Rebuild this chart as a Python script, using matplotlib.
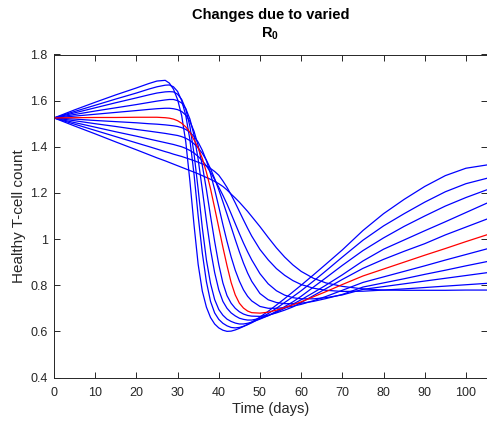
import matplotlib
matplotlib.use("Agg")
import matplotlib.pyplot as plt

plt.rcParams['font.family'] = ['Liberation Sans', 'DejaVu Sans']
plt.rcParams['mathtext.fontset'] = 'custom'
plt.rcParams['mathtext.bf'] = 'Liberation Sans:bold'
plt.rcParams['mathtext.rm'] = 'Liberation Sans'

# Sampling days shared by every trajectory
days = [0, 5, 10, 15, 20, 23, 25, 27, 28, 29, 30, 31, 32, 33, 34, 35, 36, 37, 38,
        39, 40, 41, 42, 43, 44, 45, 46, 47, 48, 50, 52, 54, 56, 58, 60, 63, 66,
        70, 75, 80, 85, 90, 95, 100, 105]

# Healthy T-cell count for each value of R0 (blue runs), baseline run in red
run_01 = [1.525, 1.560, 1.593, 1.625, 1.655, 1.674, 1.685, 1.688, 1.676, 1.650,
          1.605, 1.535, 1.420, 1.250, 1.060, 0.890, 0.775, 0.705, 0.660, 0.632,
          0.615, 0.605, 0.600, 0.601, 0.606, 0.613, 0.621, 0.630, 0.640, 0.662,
          0.687, 0.714, 0.742, 0.771, 0.800, 0.845, 0.891, 0.953, 1.037, 1.110,
          1.172, 1.228, 1.275, 1.307, 1.321]
run_02 = [1.525, 1.553, 1.580, 1.607, 1.633, 1.650, 1.660, 1.667, 1.668, 1.660,
          1.640, 1.600, 1.535, 1.430, 1.280, 1.100, 0.940, 0.815, 0.730, 0.680,
          0.652, 0.635, 0.624, 0.617, 0.615, 0.617, 0.622, 0.629, 0.637, 0.656,
          0.677, 0.700, 0.725, 0.750, 0.776, 0.818, 0.862, 0.922, 0.995, 1.057,
          1.110, 1.160, 1.205, 1.240, 1.263]
run_03 = [1.525, 1.547, 1.569, 1.591, 1.612, 1.625, 1.633, 1.638, 1.639, 1.638,
          1.628, 1.605, 1.563, 1.488, 1.370, 1.215, 1.050, 0.910, 0.808, 0.738,
          0.695, 0.670, 0.653, 0.643, 0.636, 0.632, 0.632, 0.635, 0.640, 0.653,
          0.668, 0.687, 0.707, 0.728, 0.752, 0.792, 0.832, 0.886, 0.950, 1.005,
          1.055, 1.100, 1.143, 1.180, 1.213]
run_04 = [1.525, 1.540, 1.555, 1.569, 1.583, 1.592, 1.598, 1.603, 1.605, 1.605,
          1.600, 1.590, 1.565, 1.520, 1.450, 1.345, 1.215, 1.080, 0.955, 0.855,
          0.780, 0.730, 0.700, 0.680, 0.667, 0.657, 0.652, 0.649, 0.649, 0.656,
          0.668, 0.683, 0.700, 0.718, 0.737, 0.768, 0.800, 0.845, 0.905, 0.956,
          0.996, 1.036, 1.075, 1.115, 1.155]
run_05 = [1.525, 1.533, 1.541, 1.549, 1.557, 1.562, 1.565, 1.567, 1.567, 1.565,
          1.561, 1.553, 1.537, 1.510, 1.467, 1.405, 1.320, 1.215, 1.100, 0.990,
          0.890, 0.810, 0.755, 0.722, 0.700, 0.685, 0.675, 0.669, 0.666, 0.665,
          0.670, 0.680, 0.692, 0.706, 0.725, 0.755, 0.785, 0.825, 0.873, 0.912,
          0.947, 0.980, 1.018, 1.052, 1.086]
run_base = [1.525, 1.526, 1.527, 1.527, 1.528, 1.528, 1.528, 1.526, 1.524, 1.520,
            1.513, 1.502, 1.486, 1.463, 1.430, 1.395, 1.350, 1.290, 1.218, 1.135,
            1.050, 0.965, 0.885, 0.812, 0.758, 0.722, 0.701, 0.688, 0.681, 0.679,
            0.683, 0.692, 0.703, 0.715, 0.728, 0.750, 0.772, 0.803, 0.840, 0.870,
            0.900, 0.930, 0.959, 0.989, 1.018]
run_07 = [1.525, 1.520, 1.514, 1.509, 1.504, 1.500, 1.498, 1.495, 1.493, 1.491,
          1.488, 1.483, 1.475, 1.463, 1.445, 1.420, 1.385, 1.340, 1.283, 1.215,
          1.140, 1.063, 0.990, 0.923, 0.865, 0.818, 0.780, 0.752, 0.732, 0.708,
          0.700, 0.700, 0.703, 0.709, 0.717, 0.733, 0.751, 0.778, 0.812, 0.836,
          0.860, 0.884, 0.909, 0.933, 0.957]
run_08 = [1.525, 1.513, 1.500, 1.488, 1.475, 1.468, 1.463, 1.458, 1.455, 1.452,
          1.449, 1.444, 1.437, 1.427, 1.413, 1.395, 1.372, 1.342, 1.305, 1.262,
          1.214, 1.162, 1.108, 1.053, 0.998, 0.945, 0.896, 0.853, 0.817, 0.764,
          0.737, 0.725, 0.720, 0.720, 0.722, 0.730, 0.742, 0.760, 0.792, 0.810,
          0.828, 0.847, 0.865, 0.884, 0.902]
run_09 = [1.525, 1.505, 1.485, 1.465, 1.446, 1.434, 1.426, 1.418, 1.414, 1.410,
          1.405, 1.400, 1.393, 1.384, 1.373, 1.358, 1.340, 1.317, 1.290, 1.258,
          1.225, 1.190, 1.152, 1.110, 1.067, 1.024, 0.983, 0.945, 0.910, 0.850,
          0.806, 0.776, 0.757, 0.746, 0.741, 0.741, 0.746, 0.758, 0.782, 0.794,
          0.806, 0.818, 0.830, 0.842, 0.854]
run_10 = [1.525, 1.498, 1.471, 1.444, 1.417, 1.401, 1.390, 1.379, 1.374, 1.368,
          1.363, 1.358, 1.352, 1.346, 1.340, 1.333, 1.326, 1.317, 1.306, 1.293,
          1.277, 1.252, 1.224, 1.192, 1.157, 1.120, 1.083, 1.047, 1.013, 0.955,
          0.910, 0.872, 0.843, 0.820, 0.803, 0.787, 0.778, 0.773, 0.774, 0.779,
          0.784, 0.790, 0.796, 0.802, 0.808]
run_11 = [1.525, 1.490, 1.456, 1.421, 1.387, 1.366, 1.352, 1.339, 1.332, 1.325,
          1.318, 1.311, 1.304, 1.297, 1.290, 1.283, 1.275, 1.267, 1.259, 1.250,
          1.240, 1.228, 1.213, 1.195, 1.178, 1.160, 1.140, 1.120, 1.098, 1.054,
          1.007, 0.962, 0.922, 0.888, 0.860, 0.830, 0.810, 0.795, 0.784, 0.779,
          0.778, 0.778, 0.778, 0.779, 0.779]

blue_runs = [run_01, run_02, run_03, run_04, run_05,
             run_07, run_08, run_09, run_10, run_11]

fig = plt.figure(figsize=(4.87, 4.24), dpi=100)
ax = fig.add_axes([54 / 487, (424 - 377.5) / 424, (486.5 - 54) / 487, (377.5 - 54.5) / 424])

for run in blue_runs:
    ax.plot(days, run, color=(0, 0, 1), linewidth=0.9)
ax.plot(days, run_base, color=(1, 0, 0), linewidth=0.9)

ax.set_xlim(0, 105)
ax.set_ylim(0.4, 1.8)
ax.set_xticks(range(0, 101, 10))
ax.set_yticks([0.4, 0.6, 0.8, 1.0, 1.2, 1.4, 1.6, 1.8])
ax.set_yticklabels(['0.4', '0.6', '0.8', '1', '1.2', '1.4', '1.6', '1.8'])

edge = (0.15, 0.15, 0.15)
for s in ax.spines.values():
    s.set_color(edge)
    s.set_linewidth(0.7)
ax.tick_params(direction='in', length=4, width=0.7, colors=edge,
               labelcolor=edge, labelsize=9, top=True, right=True)
ax.tick_params(axis='x', pad=6.5)
ax.tick_params(axis='y', pad=4.5)

ax.set_xlabel('Time (days)', fontsize=10.5, color=edge, labelpad=2.5)
ax.set_ylabel('Healthy T-cell count', fontsize=11, color=edge, labelpad=3)

title_x = 0.5 * (54 + 486.5) / 487
fig.text(title_x, 1 - 19.5 / 424, 'Changes due to varied',
         ha='center', va='baseline', fontsize=10.5, fontweight='bold')
fig.text(title_x, 1 - 38 / 424, r'$\mathbf{R_0}$',
         ha='center', va='baseline', fontsize=10.5)

fig.savefig('out.png', dpi=100)
